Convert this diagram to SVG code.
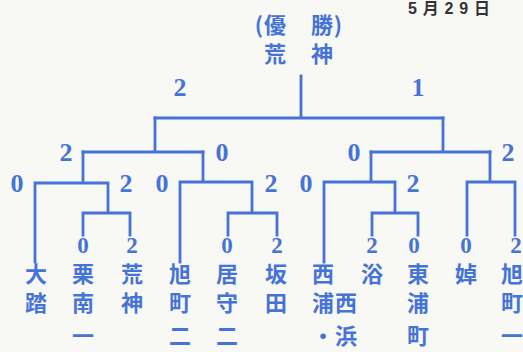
<svg xmlns="http://www.w3.org/2000/svg" width="523" height="352" viewBox="0 0 523 352">
<style>
.ln{fill:none;stroke:#4673d6;stroke-width:2.8;stroke-linecap:square}
.sc{font-family:"Liberation Serif","DejaVu Serif",serif;font-weight:bold;fill:#4673d6;text-anchor:middle}
.s1{font-size:26px}
.s2{font-size:23px}
.jp{font-family:"Noto Sans CJK JP","Noto Sans CJK SC",sans-serif;font-weight:bold;font-size:22px;fill:#4673d6;text-anchor:middle}
.dt{font-family:"Liberation Sans Narrow","Liberation Sans","Noto Sans CJK JP",sans-serif;font-weight:bold;font-size:16px;fill:#333}
</style>
<rect width="523" height="352" fill="#f8f8f5"/>
<text class="dt" x="408" y="14" textLength="82" lengthAdjust="spacing">5月29日</text>
<g id="champion">
<text class="jp" x="259" y="33">(</text>
<text class="jp" x="275" y="33">優</text>
<text class="jp" x="322" y="33">勝</text>
<text class="jp" x="338" y="33">)</text>
<text class="jp" x="275" y="62">荒</text>
<text class="jp" x="322" y="62">神</text>
</g>
<g id="connectors">
<path class="ln" d="M301,76V118M155,118H443"/>
<path class="ln" d="M155,118V152M83,152H203"/>
<path class="ln" d="M443,118V152M371,152H490"/>
<path class="ln" d="M83,152V183M35,183H108M35,183V262M108,183V213M83,213H130M83,213V235M130,213V235"/>
<path class="ln" d="M203,152V182M180,182H252M180,182V262M252,182V213M228,213H277M228,213V235M277,213V235"/>
<path class="ln" d="M371,152V182M324,182H395M324,182V262M395,182V213M372,213H418M372,213V235M418,213V235"/>
<path class="ln" d="M490,152V182M467,182H515M467,182V235M515,182V235"/>
</g>
<g id="scores">
<text class="sc s1" x="180" y="96">2</text>
<text class="sc s1" x="418" y="96">1</text>
<text class="sc s1" x="66" y="161">2</text>
<text class="sc s1" x="222" y="161">0</text>
<text class="sc s1" x="354" y="161">0</text>
<text class="sc s1" x="508" y="161">2</text>
<text class="sc s1" x="17" y="192">0</text>
<text class="sc s1" x="126" y="192">2</text>
<text class="sc s1" x="162" y="192">0</text>
<text class="sc s1" x="271" y="192">2</text>
<text class="sc s1" x="306" y="192">0</text>
<text class="sc s1" x="413" y="192">2</text>
<text class="sc s2" x="83" y="253">0</text>
<text class="sc s2" x="132" y="253">2</text>
<text class="sc s2" x="227" y="253">0</text>
<text class="sc s2" x="277" y="253">2</text>
<text class="sc s2" x="372" y="253">2</text>
<text class="sc s2" x="414" y="253">0</text>
<text class="sc s2" x="466" y="253">0</text>
<text class="sc s2" x="516" y="253">2</text>
</g>
<g id="team-daito">
<text class="jp" x="36" y="282">大</text>
<text class="jp" x="36" y="311">踏</text>
</g>
<g id="team-kurinan1">
<text class="jp" x="83" y="282">栗</text>
<text class="jp" x="83" y="311">南</text>
<text class="jp" x="83" y="344">一</text>
</g>
<g id="team-kojin">
<text class="jp" x="132" y="282">荒</text>
<text class="jp" x="132" y="311">神</text>
</g>
<g id="team-asahimachi2">
<text class="jp" x="180" y="282">旭</text>
<text class="jp" x="180" y="311">町</text>
<text class="jp" x="180" y="344">二</text>
</g>
<g id="team-imori2">
<text class="jp" x="227" y="282">居</text>
<text class="jp" x="227" y="311">守</text>
<text class="jp" x="227" y="344">二</text>
</g>
<g id="team-sakata">
<text class="jp" x="276" y="282">坂</text>
<text class="jp" x="276" y="311">田</text>
</g>
<g id="team-nishiura-nishihama">
<text class="jp" x="323" y="282">西</text>
<text class="jp" x="323" y="311">浦</text>
<text class="jp" x="323" y="344">・</text>
<text class="jp" x="346" y="311">西</text>
<text class="jp" x="346" y="344">浜</text>
</g>
<g id="team-eki">
<text class="jp" x="372" y="282">浴</text>
</g>
<g id="team-higashiuramachi">
<text class="jp" x="418" y="282">東</text>
<text class="jp" x="418" y="311">浦</text>
<text class="jp" x="418" y="344">町</text>
</g>
<g id="team-shaku">
<text class="jp" x="466" y="282">婥</text>
</g>
<g id="team-asahimachi1">
<text class="jp" x="512" y="282">旭</text>
<text class="jp" x="512" y="311">町</text>
<text class="jp" x="512" y="344">一</text>
</g>
</svg>
